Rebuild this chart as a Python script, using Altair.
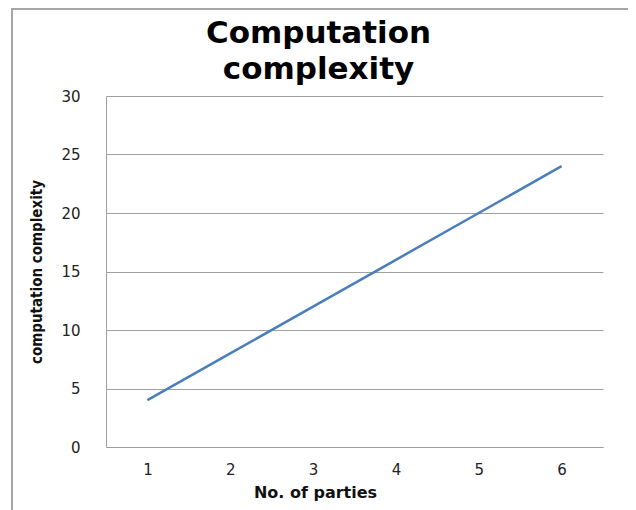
import altair as alt
import pandas as pd

parties = [1, 2, 3, 4, 5, 6]
complexity = [4, 8, 12, 16, 20, 24]

df = pd.DataFrame({"parties": parties, "complexity": complexity})

line = alt.Chart(df).mark_line(color="#4A7EBB", strokeWidth=2.5).encode(
    x=alt.X("parties:O", title="No. of parties",
            scale=alt.Scale(paddingOuter=0.5),
            axis=alt.Axis(labelAngle=0, ticks=False, domain=True, domainColor="#9e9e9e",
                          labelFont="DejaVu Sans", labelFontSize=15, labelColor="#222222",
                          labelPadding=15, titleFont="DejaVu Sans", titleFontSize=16,
                          titleFontWeight="bold", titleColor="#111111", titlePadding=7,
                          titleX=209)),
    y=alt.Y("complexity:Q", title="computation complexity",
            scale=alt.Scale(domain=[0, 30]),
            axis=alt.Axis(values=[0, 5, 10, 15, 20, 25, 30], ticks=False, domainColor="#9e9e9e",
                          gridColor="#a0a0a0", gridWidth=1.2,
                          labelFont="DejaVu Sans", labelFontSize=15, labelColor="#222222",
                          labelPadding=26, titleFont="DejaVu Sans Condensed, DejaVu Sans",
                          titleFontSize=15, titleFontWeight="bold",
                          titleColor="#111111", titlePadding=16)),
)

frame = alt.Chart(df).mark_rect(fill=None, stroke="#a6a6a6", strokeWidth=1.5, clip=False).encode(
    x=alt.value(-94), x2=alt.value(527), y=alt.value(-87), y2=alt.value(440)
)

chart = alt.layer(frame, line).properties(
    width=497, height=351,
    title=alt.TitleParams(["Computation", "complexity"], font="DejaVu Sans", fontSize=31,
                          fontWeight="bold", color="#000000", lineHeight=36,
                          anchor="middle", dx=-36, offset=-78),
    autosize=alt.AutoSizeParams(type="none"),
    padding={"left": 98, "top": 88, "right": 25, "bottom": 63},
).configure_view(stroke=None)

chart.save("out.html", embed_options={"renderer": "svg", "actions": False})
